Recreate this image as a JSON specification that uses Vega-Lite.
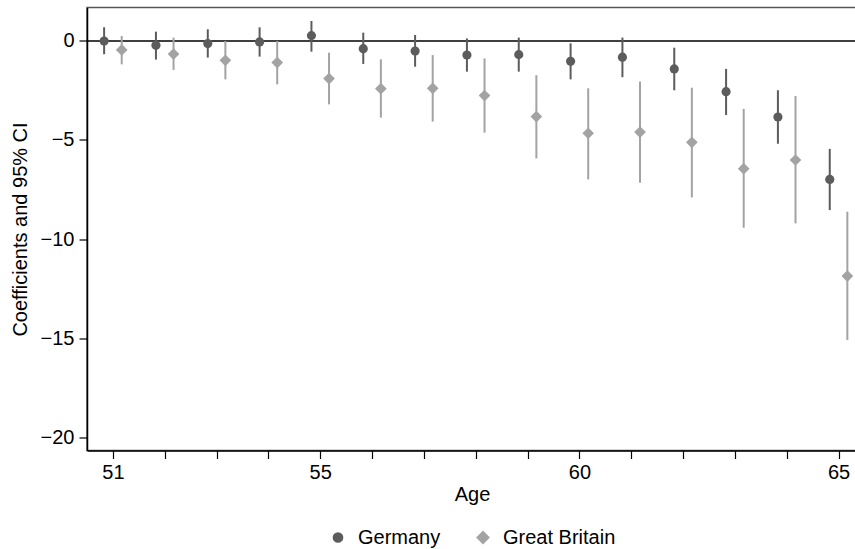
{
  "$schema": "https://vega.github.io/schema/vega-lite/v6.json",
  "width": 770,
  "height": 443,
  "autosize": {"type": "none"},
  "padding": {"left": 87, "top": 7.5, "right": 0, "bottom": 98.5},
  "config": {
    "font": "Liberation Sans",
    "view": {"stroke": "#555555", "strokeWidth": 1.5},
    "axis": {"labelFont": "Liberation Sans", "titleFont": "Liberation Sans", "labelFontSize": 20, "titleFontSize": 20, "titleFontWeight": "normal", "labelColor": "#000", "titleColor": "#000", "domainColor": "#000", "tickColor": "#000", "grid": false, "tickSize": 8, "domainWidth": 1.5, "tickWidth": 1.2},
    "legend": {"labelFont": "Liberation Sans", "labelFontSize": 20, "labelColor": "#000", "layout": {"bottom": {"anchor": "middle"}}}
  },
  "datasets": {
    "est": [
      {"age": 51, "country": "Germany", "coef": 0.0, "lo": -0.67, "hi": 0.69},
      {"age": 52, "country": "Germany", "coef": -0.22, "lo": -0.94, "hi": 0.47},
      {"age": 53, "country": "Germany", "coef": -0.13, "lo": -0.84, "hi": 0.59},
      {"age": 54, "country": "Germany", "coef": -0.05, "lo": -0.79, "hi": 0.69},
      {"age": 55, "country": "Germany", "coef": 0.27, "lo": -0.54, "hi": 1.01},
      {"age": 56, "country": "Germany", "coef": -0.39, "lo": -1.16, "hi": 0.42},
      {"age": 57, "country": "Germany", "coef": -0.51, "lo": -1.30, "hi": 0.30},
      {"age": 58, "country": "Germany", "coef": -0.71, "lo": -1.55, "hi": 0.13},
      {"age": 59, "country": "Germany", "coef": -0.69, "lo": -1.55, "hi": 0.17},
      {"age": 60, "country": "Germany", "coef": -1.03, "lo": -1.94, "hi": -0.12},
      {"age": 61, "country": "Germany", "coef": -0.82, "lo": -1.83, "hi": 0.17},
      {"age": 62, "country": "Germany", "coef": -1.41, "lo": -2.49, "hi": -0.34},
      {"age": 63, "country": "Germany", "coef": -2.56, "lo": -3.74, "hi": -1.41},
      {"age": 64, "country": "Germany", "coef": -3.84, "lo": -5.19, "hi": -2.49},
      {"age": 65, "country": "Germany", "coef": -6.99, "lo": -8.54, "hi": -5.45},
      {"age": 51, "country": "Great Britain", "coef": -0.45, "lo": -1.18, "hi": 0.25},
      {"age": 52, "country": "Great Britain", "coef": -0.66, "lo": -1.46, "hi": 0.17},
      {"age": 53, "country": "Great Britain", "coef": -0.98, "lo": -1.94, "hi": 0.0},
      {"age": 54, "country": "Great Britain", "coef": -1.09, "lo": -2.19, "hi": 0.0},
      {"age": 55, "country": "Great Britain", "coef": -1.90, "lo": -3.20, "hi": -0.59},
      {"age": 56, "country": "Great Britain", "coef": -2.41, "lo": -3.87, "hi": -0.93},
      {"age": 57, "country": "Great Britain", "coef": -2.39, "lo": -4.07, "hi": -0.71},
      {"age": 58, "country": "Great Britain", "coef": -2.76, "lo": -4.63, "hi": -0.88},
      {"age": 59, "country": "Great Britain", "coef": -3.82, "lo": -5.93, "hi": -1.73},
      {"age": 60, "country": "Great Britain", "coef": -4.66, "lo": -6.99, "hi": -2.39},
      {"age": 61, "country": "Great Britain", "coef": -4.60, "lo": -7.16, "hi": -2.05},
      {"age": 62, "country": "Great Britain", "coef": -5.12, "lo": -7.90, "hi": -2.36},
      {"age": 63, "country": "Great Britain", "coef": -6.45, "lo": -9.43, "hi": -3.43},
      {"age": 64, "country": "Great Britain", "coef": -6.01, "lo": -9.21, "hi": -2.78},
      {"age": 65, "country": "Great Britain", "coef": -11.87, "lo": -15.10, "hi": -8.62}
    ],
    "zero": [{"v": 0}]
  },
  "layer": [
    {
      "data": {"name": "zero"},
      "mark": {"type": "rule", "color": "#000", "strokeWidth": 1.5},
      "encoding": {
        "y": {"field": "v", "type": "quantitative", "scale": {"domain": [-20.68, 1.69], "nice": false, "zero": false}}
      }
    },
    {
      "data": {"name": "est"},
      "mark": {"type": "rule", "strokeWidth": 2, "xOffset": {"expr": "datum.country === 'Germany' ? -8.8 : 8.8"}},
      "encoding": {
        "x": {"field": "age", "type": "quantitative"},
        "y": {"field": "lo", "type": "quantitative"},
        "y2": {"field": "hi"},
        "color": {"field": "country", "type": "nominal"}
      }
    },
    {
      "data": {"name": "est"},
      "mark": {"type": "point", "filled": true, "opacity": 1, "xOffset": {"expr": "datum.country === 'Germany' ? -8.8 : 8.8"}},
      "encoding": {
        "x": {"field": "age", "type": "quantitative", "title": "Age",
          "scale": {"domain": [50.5, 65.356], "nice": false, "zero": false},
          "axis": {"values": [51, 52, 53, 54, 55, 56, 57, 58, 59, 60, 61, 62, 63, 64, 65], "labelExpr": "indexof([51,55,60,65], datum.value) >= 0 ? datum.label : ''", "labelPadding": 4, "titlePadding": 2}},
        "y": {"field": "coef", "type": "quantitative", "title": "Coefficients and 95% CI",
          "axis": {"values": [0, -5, -10, -15, -20], "labelPadding": 5, "titlePadding": 10}},
        "color": {"field": "country", "type": "nominal", "scale": {"domain": ["Germany", "Great Britain"], "range": ["#5c5c5c", "#a3a3a3"]},
          "legend": {"orient": "bottom", "direction": "horizontal", "title": null, "offset": 23, "columnPadding": 32, "labelOffset": 10, "symbolSize": 110, "labelFontSize": 20}},
        "shape": {"field": "country", "type": "nominal", "scale": {"domain": ["Germany", "Great Britain"], "range": ["circle", "diamond"]}},
        "size": {"field": "country", "type": "nominal", "scale": {"domain": ["Germany", "Great Britain"], "range": [84, 137]}, "legend": null}
      }
    }
  ]
}
